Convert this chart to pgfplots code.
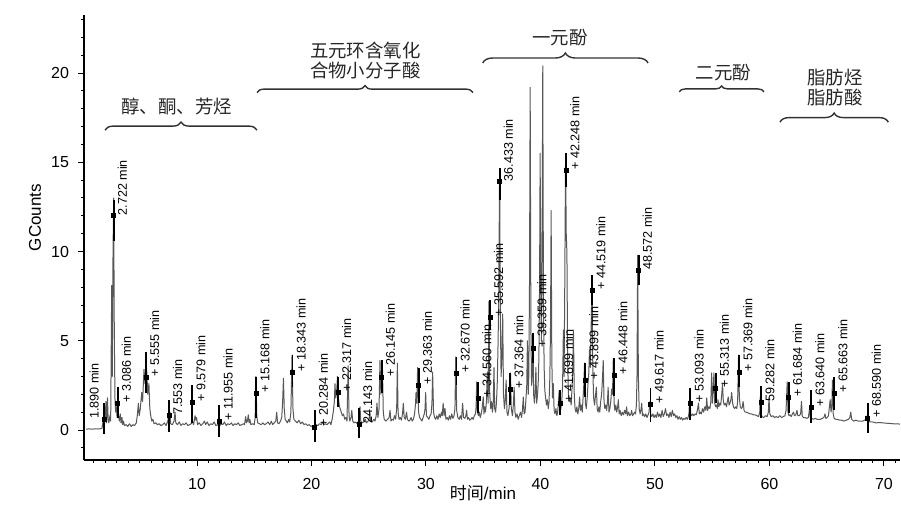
\documentclass[border=0pt]{standalone}
\usepackage{fontspec}
\setmainfont{Liberation Sans}
\newfontfamily\cjk{Noto Sans CJK SC}
\usepackage{pgfplots}
\pgfplotsset{compat=1.18}
\usetikzlibrary{decorations.pathreplacing}
\definecolor{trace}{RGB}{88,88,88}
\definecolor{brc}{RGB}{50,50,50}
\begin{document}
\begin{tikzpicture}
\begin{axis}[
 scale only axis, width=408pt, height=222.5pt,
 xmin=0.13, xmax=71.4, ymin=-1.68, ymax=23.25,
 axis x line*=bottom, axis y line*=left,
 axis line style={line width=0.6pt, black},
 xtick={10,20,...,70}, ytick={0,5,...,20},
 minor xtick={1,...,71}, minor ytick={-1,...,23},
 tick align=outside, major tick length=3pt, minor tick length=1.5pt,
 tick style={line width=0.5pt, black},
 /pgf/number format/assume math mode=true,
 ticklabel style={font=\fontsize{8}{9}\selectfont},
 yticklabel style={xshift=-1pt},
 xticklabel style={yshift=-2.5pt},
 xlabel={{\cjk 时间}/min}, ylabel={GCounts},
 label style={font=\fontsize{8.5}{10}\selectfont},
 xlabel style={at={(axis description cs:0.489,-0.074)}, anchor=center},
 ylabel style={at={(axis description cs:-0.06,0.545)}, anchor=center},
 clip=false,
]
\addplot[color=trace, line width=0.5pt, line join=round, mark=none] coordinates {
(0.3,0.05)(0.6,0.06)(0.9,0.05)(1.2,0.07)(1.5,0.06)(1.7,0.1)(1.8,0.5)(1.86,0.9)(1.92,0.3)(2.0,0.9)(2.05,1.6)(2.1,0.4)(2.18,1.8)(2.24,0.6)(2.3,0.4)
(2.4,0.8)(2.46,0.5)(2.55,8.1)(2.6,3.0)(2.66,9.5)(2.72,13.0)(2.78,5.0)(2.84,1.6)(2.9,1.0)(2.96,1.3)(3.02,0.7)(3.08,2.2)(3.14,0.8)(3.22,0.5)(3.3,0.9)(3.36,0.4)(3.45,0.7)(3.5,0.3)(3.58,0.5)(3.66,0.25)
(3.8,0.3)(3.95,0.2)(4.1,0.35)(4.25,0.2)(4.4,0.3)(4.55,0.25)(4.7,0.4)(4.8,0.9)(4.88,1.5)(4.95,0.8)(5.05,1.2)(5.17,2.1)(5.25,1.6)(5.37,3.4)(5.45,2.6)(5.55,3.75)(5.62,3.2)(5.7,2.0)(5.8,2.6)(5.88,1.2)(5.96,0.8)(6.05,0.5)(6.15,0.6)(6.25,0.35)(6.4,0.4)(6.55,0.3)
(6.7,0.35)(6.85,0.25)(7.0,0.3)(7.15,0.4)(7.3,0.25)(7.45,0.5)(7.52,0.8)(7.58,0.3)(7.64,1.0)(7.7,0.35)(7.85,0.3)(8.0,0.5)(8.08,1.0)(8.15,0.4)(8.3,0.3)(8.45,0.45)(8.6,0.25)(8.75,0.35)(8.9,0.3)(9.05,0.4)(9.2,0.25)(9.35,0.3)(9.5,0.35)(9.6,0.5)(9.7,0.3)(9.83,0.8)(9.9,0.55)(9.96,0.7)(10.05,0.3)(10.2,0.4)
(10.35,0.25)(10.5,0.35)(10.65,0.5)(10.75,0.3)(10.9,0.45)(11.05,0.25)(11.2,0.35)(11.35,0.3)(11.5,0.45)(11.65,0.25)(11.8,0.3)(11.95,0.2)(12.1,0.35)(12.25,0.3)(12.4,0.45)(12.55,0.25)(12.7,0.35)(12.85,0.3)(13.0,0.4)(13.15,0.25)(13.3,0.35)(13.45,0.3)(13.6,0.4)(13.75,0.25)(13.9,0.3)(14.05,0.35)
(14.15,0.3)(14.25,0.75)(14.32,0.4)(14.4,0.5)(14.48,0.85)(14.55,0.4)(14.62,0.6)(14.7,0.3)(14.85,0.35)(15.0,0.3)(15.08,0.7)(15.15,3.0)(15.22,0.8)(15.3,0.4)(15.45,0.35)(15.6,0.3)(15.75,0.4)(15.9,0.3)(16.05,0.35)(16.2,0.45)(16.35,0.3)(16.5,0.5)(16.6,0.3)(16.75,0.4)(16.88,0.5)(16.96,1.0)(17.04,0.4)(17.15,0.35)(17.3,0.5)(17.4,0.7)(17.48,1.6)(17.55,2.9)(17.62,1.2)(17.7,0.6)(17.8,0.5)(17.9,0.4)(18.0,0.6)(18.1,0.45)(18.2,1.0)(18.3,4.2)(18.38,1.2)(18.46,0.6)
(18.6,0.5)(18.75,0.4)(18.9,0.55)(19.05,0.35)(19.2,0.45)(19.35,0.3)(19.5,0.35)(19.65,0.25)(19.8,0.3)(19.95,0.2)(20.1,0.25)(20.25,0.15)(20.4,0.3)(20.55,0.25)(20.7,0.35)(20.85,0.3)(21.0,0.45)(21.08,0.3)(21.2,0.35)(21.35,0.3)(21.5,0.4)(21.6,0.45)(21.7,0.3)(21.8,0.6)(21.9,1.0)(22.0,1.6)(22.05,2.6)(22.12,1.8)(22.2,2.2)(22.27,3.0)(22.34,1.9)(22.42,1.4)(22.5,1.2)(22.6,1.0)(22.7,0.8)(22.8,0.9)(22.9,0.6)(23.0,0.7)(23.1,0.5)(23.2,3.6)(23.28,0.8)(23.35,0.5)(23.45,0.7)(23.52,1.1)(23.6,0.5)(23.7,0.4)(23.85,0.45)(24.0,0.35)(24.1,0.5)(24.18,0.9)(24.24,1.3)(24.3,0.5)(24.4,0.4)
(24.55,0.45)(24.7,0.6)(24.8,0.4)(24.95,0.5)(25.05,0.7)(25.1,1.0)(25.16,0.5)(25.3,0.45)(25.45,0.6)(25.55,0.5)(25.65,0.8)(25.72,1.5)(25.8,0.7)(25.9,1.2)(25.98,3.9)(26.06,2.0)(26.12,2.5)(26.19,3.75)(26.27,1.0)(26.35,0.6)(26.5,0.5)(26.65,0.6)(26.78,0.7)(26.86,1.1)(26.94,0.5)(27.05,0.6)(27.15,0.55)(27.25,0.8)(27.35,0.6)(27.44,1.2)(27.5,3.75)(27.56,1.0)(27.65,0.6)(27.75,0.7)(27.85,0.55)(27.95,0.9)(28.02,1.5)(28.1,0.7)(28.2,0.6)(28.3,1.0)(28.38,0.6)(28.5,0.5)
(28.6,0.55)(28.7,0.7)(28.8,0.5)(28.9,0.6)(29.0,0.9)(29.08,1.4)(29.13,2.1)(29.2,1.5)(29.27,3.5)(29.35,1.0)(29.45,0.7)(29.55,0.6)(29.65,0.5)(29.75,0.7)(29.85,0.9)(29.92,1.2)(29.97,2.1)(30.04,0.8)(30.15,0.7)(30.25,0.6)(30.35,0.8)(30.45,0.9)(30.52,1.5)(30.58,3.25)(30.66,1.0)(30.75,0.7)(30.85,0.6)(30.95,0.8)(31.05,0.6)(31.15,0.9)(31.25,0.7)(31.35,1.0)(31.42,0.8)(31.5,1.5)(31.58,0.8)(31.66,1.2)(31.74,0.6)(31.85,0.7)(31.95,0.55)(32.05,0.8)(32.15,0.6)(32.25,0.9)(32.35,0.65)(32.45,0.8)(32.53,1.2)(32.6,4.1)(32.68,1.1)(32.78,0.7)(32.9,0.6)
(33.0,0.8)(33.1,0.6)(33.2,1.5)(33.28,0.7)(33.4,0.65)(33.48,0.8)(33.55,1.1)(33.62,0.6)(33.72,0.7)(33.82,0.55)(33.92,0.6)(34.02,0.7)(34.12,0.6)(34.22,0.8)(34.32,0.9)(34.38,1.3)(34.43,2.7)(34.5,1.0)(34.58,0.8)(34.66,1.0)(34.74,0.7)(34.82,0.9)(34.9,1.2)(35.0,1.85)(35.06,0.9)(35.14,1.3)(35.2,1.0)(35.28,1.6)(35.36,3.25)(35.43,1.5)(35.5,7.2)(35.57,2.0)(35.65,1.2)(35.73,1.6)(35.8,1.0)(35.87,1.4)(35.94,3.5)(36.0,1.2)(36.08,1.0)
(36.15,1.5)(36.22,2.5)(36.3,5.0)(36.36,8.0)(36.43,14.6)(36.5,6.0)(36.56,3.0)(36.62,4.0)(36.7,6.5)(36.77,2.0)(36.85,1.2)(36.92,1.6)(37.0,2.8)(37.07,1.0)(37.15,0.8)(37.25,1.2)(37.32,1.8)(37.38,3.2)(37.45,1.2)(37.55,0.8)(37.63,1.4)(37.7,2.4)(37.77,1.0)(37.85,0.7)(37.95,0.9)(38.05,0.6)(38.15,0.8)(38.25,1.0)(38.35,0.7)(38.42,1.1)(38.5,1.85)(38.57,0.9)(38.65,1.0)(38.72,1.6)(38.8,2.5)(38.86,5.0)(38.93,2.0)
(38.98,3.0)(39.04,8.0)(39.1,19.2)(39.16,6.0)(39.22,2.5)(39.28,3.2)(39.34,5.4)(39.4,2.0)(39.47,1.5)(39.54,2.2)(39.6,3.5)(39.66,1.5)(39.72,1.8)(39.8,2.6)(39.86,4.0)(39.92,8.0)(39.97,15.5)(40.03,7.0)(40.08,5.0)(40.14,10.0)(40.2,20.4)(40.26,7.0)(40.32,3.5)(40.38,2.2)(40.45,1.8)(40.52,1.4)(40.6,1.7)(40.68,1.2)(40.75,1.6)(40.82,3.0)(40.88,6.0)(40.93,12.3)(40.99,4.0)(41.05,1.8)(41.12,2.6)(41.19,1.1)(41.27,0.9)(41.35,1.2)(41.43,0.8)(41.5,1.0)(41.57,1.6)(41.63,2.2)(41.7,1.0)
(41.78,1.2)(41.86,1.6)(41.93,2.5)(42.0,5.6)(42.06,3.0)(42.12,8.0)(42.19,15.3)(42.25,11.0)(42.31,9.9)(42.37,4.0)(42.44,2.0)(42.52,1.6)(42.6,1.8)(42.68,1.4)(42.76,2.4)(42.82,3.5)(42.88,5.6)(42.95,2.0)(43.02,1.2)(43.1,1.0)(43.18,1.3)(43.26,0.9)(43.34,1.2)(43.42,1.85)(43.49,1.1)(43.57,1.4)(43.65,1.0)(43.72,1.8)(43.79,2.6)(43.85,3.75)(43.92,1.5)(44.0,1.2)(44.08,1.8)(44.15,2.6)(44.22,3.2)(44.28,4.5)
(44.35,3.5)(44.42,5.5)(44.5,8.6)(44.57,3.5)(44.64,1.8)(44.72,1.4)(44.8,1.9)(44.88,2.4)(44.95,1.2)(45.03,1.0)(45.1,1.3)(45.18,1.0)(45.26,1.6)(45.34,2.0)(45.41,2.8)(45.48,3.9)(45.55,1.6)(45.62,1.2)(45.7,1.4)(45.78,1.1)(45.85,1.6)(45.91,2.4)(45.98,1.0)(46.06,1.2)(46.14,1.6)(46.22,2.3)(46.29,2.0)(46.36,4.0)(46.43,1.5)(46.5,1.1)(46.58,1.4)(46.66,1.0)(46.74,1.3)(46.8,1.7)(46.87,0.9)(46.95,1.1)
(47.05,0.8)(47.15,1.0)(47.25,0.85)(47.35,1.1)(47.45,0.9)(47.52,1.3)(47.6,0.8)(47.7,1.0)(47.8,0.8)(47.9,0.9)(47.96,1.1)(48.04,0.8)(48.14,0.9)(48.22,1.0)(48.3,0.9)(48.38,1.4)(48.43,3.0)(48.49,9.8)(48.55,3.0)(48.62,1.2)(48.7,0.9)(48.77,1.1)(48.84,1.5)(48.91,0.8)(49.0,0.9)(49.1,0.75)(49.2,0.9)(49.3,0.7)(49.4,0.85)(49.48,1.0)(49.56,1.6)(49.63,0.9)(49.72,0.75)(49.82,0.9)(49.92,0.7)(50.02,0.85)(50.12,0.7)(50.22,1.0)(50.32,0.75)(50.42,0.9)
(50.52,0.7)(50.62,1.1)(50.72,0.75)(50.82,0.9)(50.92,1.2)(51.02,0.8)(51.12,0.9)(51.22,0.7)(51.32,1.0)(51.42,0.75)(51.52,1.1)(51.62,0.8)(51.72,0.9)(51.82,0.7)(51.92,0.8)(52.02,0.6)(52.12,0.75)(52.22,0.6)(52.32,0.7)(52.42,0.55)(52.52,0.65)(52.62,0.6)(52.72,0.7)(52.82,0.6)(52.92,0.75)(52.98,1.0)(53.05,2.3)(53.12,0.9)(53.2,0.8)(53.3,0.9)(53.4,0.8)
(53.5,0.9)(53.6,0.85)(53.7,1.1)(53.8,1.5)(53.87,0.9)(53.95,1.0)(54.05,0.9)(54.15,1.2)(54.25,1.0)(54.35,1.3)(54.45,1.1)(54.52,1.8)(54.6,1.1)(54.7,1.3)(54.8,1.2)(54.88,1.6)(54.95,3.2)(55.02,1.5)(55.08,2.2)(55.15,3.2)(55.22,1.5)(55.3,1.3)(55.38,1.4)(55.45,1.2)(55.5,1.7)(55.58,1.3)(55.66,1.5)(55.74,1.4)(55.82,1.9)(55.9,2.6)(55.97,1.6)(56.05,1.4)(56.15,1.5)(56.25,1.3)(56.32,1.6)(56.4,1.85)(56.47,1.4)(56.55,1.5)(56.63,1.7)(56.7,2.1)(56.78,1.5)(56.86,1.3)(56.95,1.2)(57.05,1.3)(57.15,1.2)(57.22,1.6)(57.3,4.2)(57.37,1.8)(57.45,1.3)(57.55,1.2)(57.63,1.3)(57.7,1.6)(57.78,1.1)(57.88,1.0)
(58.0,1.0)(58.15,0.95)(58.3,0.9)(58.45,0.9)(58.6,0.85)(58.75,0.85)(58.9,0.8)(59.05,0.75)(59.15,1.0)(59.2,1.9)(59.26,0.9)(59.35,0.75)(59.5,0.7)(59.65,0.8)(59.8,0.75)(59.9,1.0)(59.96,1.8)(60.03,0.9)(60.15,0.75)(60.3,0.8)(60.45,0.7)(60.6,0.75)(60.75,0.7)(60.9,0.8)(61.05,0.7)(61.2,0.75)(61.35,0.8)(61.45,1.1)(61.55,2.7)(61.62,1.0)(61.7,0.8)(61.8,0.85)(61.9,0.75)
(62.0,0.9)(62.1,1.0)(62.18,0.8)(62.3,0.85)(62.4,1.1)(62.48,0.8)(62.6,0.8)(62.72,0.9)(62.8,1.6)(62.86,0.8)(62.95,0.7)(63.1,0.7)(63.25,0.65)(63.4,0.7)(63.5,1.2)(63.57,0.7)(63.7,0.65)(63.85,0.6)(64.0,0.65)(64.15,0.6)(64.3,0.6)(64.45,0.6)(64.6,0.65)(64.75,0.7)(64.85,0.9)(64.93,0.65)(65.05,0.7)(65.15,0.8)(65.22,1.2)(65.3,1.7)(65.38,1.0)(65.45,1.4)(65.5,2.8)(65.57,0.9)(65.65,0.65)(65.8,0.6)(65.95,0.6)
(66.1,0.55)(66.3,0.55)(66.5,0.5)(66.7,0.55)(66.9,0.6)(67.02,0.7)(67.1,1.0)(67.18,0.6)(67.35,0.5)(67.55,0.55)(67.75,0.5)(67.95,0.5)(68.15,0.5)(68.3,0.55)(68.45,0.6)(68.52,0.8)(68.6,0.5)(68.8,0.45)(69.0,0.45)(69.3,0.4)(69.6,0.42)(69.9,0.4)(70.2,0.38)(70.5,0.37)(70.8,0.35)(71.1,0.35)(71.4,0.33)
};
\addplot[only marks, mark=square*, mark size=1pt, black,
 point meta=explicit symbolic, nodes near coords,
 nodes near coords style={xshift=1.8pt, rotate=90, anchor=north west, inner sep=0pt, font=\fontsize{6.3}{7}\selectfont, black},
 error bars/y dir=both, error bars/y explicit, error bars/error mark=none,
 error bars/error bar style={line width=0.9pt, black}] coordinates {
(2.722,12.0) += (0,0.9) -= (0,1.4) [2.722 min]
(3.086,1.5) += (0,0.9) -= (0,0.8) [+ 3.086 min]
(5.555,2.97) += (0,1.4) -= (0,0.9) [+ 5.555 min]
(7.553,0.84) += (0,0.84) -= (0,0.95) [7.553 min]
(9.579,1.57) += (0,0.95) -= (0,1.18) [+ 9.579 min]
(11.955,0.5) += (0,0.9) -= (0,0.89) [+ 11.955 min]
(15.168,2.07) += (0,0.9) -= (0,1.4) [+ 15.168 min]
(18.343,3.25) += (0,0.95) -= (0,0.85) [+ 18.343 min]
(20.284,0.17) += (0,0.95) -= (0,0.84) [+ 20.284 min]
(22.317,2.13) += (0,0.84) -= (0,0.84) [+ 22.317 min]
(24.143,0.34) += (0,0.89) -= (0,0.79) [24.143 min]
(26.145,2.97) += (0,0.95) -= (0,0.9) [+ 26.145 min]
(29.363,2.52) += (0,0.95) -= (0,1.0) [+ 29.363 min]
(32.670,3.19) += (0,0.9) -= (0,0.67) [+ 32.670 min]
(34.560,1.79) += (0,0.9) -= (0,0.84) [+ 34.560 min]
(35.592,6.33) += (0,0.95) -= (0,0.73) [+ 35.592 min]
(36.433,13.9) += (0,0.8) -= (0,1.0) [36.433 min]
(37.364,2.30) += (0,0.89) -= (0,0.9) [+ 37.364 min]
(39.359,4.59) += (0,0.84) -= (0,0.84) [+ 39.359 min]
(41.699,1.51) += (0,0.73) -= (0,0.67) [+ 41.699 min]
(42.248,14.57) += (0,0.95) -= (0,0.95) [+ 42.248 min]
(43.899,2.80) += (0,0.95) -= (0,0.95) [+ 43.899 min]
(44.519,7.84) += (0,0.84) -= (0,0.84) [+ 44.519 min]
(46.448,3.08) += (0,0.95) -= (0,1.2) [+ 46.448 min]
(48.572,8.96) += (0,0.84) -= (0,0.84) [48.572 min]
(49.617,1.46) += (0,0.9) -= (0,1.0) [+ 49.617 min]
(53.093,1.51) += (0,0.84) -= (0,0.95) [+ 53.093 min]
(55.313,2.35) += (0,0.84) -= (0,0.84) [+ 55.313 min]
(57.369,3.25) += (0,0.95) -= (0,0.84) [+ 57.369 min]
(59.282,1.57) += (0,0.9) -= (0,0.9) [59.282 min]
(61.684,1.85) += (0,0.84) -= (0,0.9) [+ 61.684 min]
(63.640,1.29) += (0,0.95) -= (0,0.9) [+ 63.640 min]
(65.663,2.07) += (0,0.9) -= (0,0.95) [+ 65.663 min]
(68.590,0.67) += (0,0.84) -= (0,0.84) [+ 68.590 min]
};
\addplot[only marks, mark=square*, mark size=1pt, black,
 point meta=explicit symbolic, nodes near coords,
 nodes near coords style={xshift=-2.5pt, rotate=90, anchor=south west, inner sep=0pt, font=\fontsize{6.3}{7}\selectfont, black},
 error bars/y dir=both, error bars/y explicit, error bars/error mark=none,
 error bars/error bar style={line width=0.9pt, black}] coordinates {
(1.890,0.62) += (0,0.89) -= (0,0.84) [1.890 min]
};
\draw[brc, line width=0.7pt, decorate, decoration={brace, amplitude=4pt}] (axis cs:1.97,16.8) -- (axis cs:15.24,16.8);
\draw[brc, line width=0.7pt, decorate, decoration={brace, amplitude=3.5pt}] (axis cs:15.24,18.9) -- (axis cs:34.1,18.9);
\draw[brc, line width=0.7pt, decorate, decoration={brace, amplitude=5pt}] (axis cs:34.95,20.56) -- (axis cs:49.4,20.56);
\draw[brc, line width=0.7pt, decorate, decoration={brace, amplitude=3pt}] (axis cs:52.12,18.94) -- (axis cs:59.52,18.94);
\draw[brc, line width=0.7pt, decorate, decoration={brace, amplitude=4.5pt}] (axis cs:60.92,17.25) -- (axis cs:70.38,17.25);
\node[font=\cjk\fontsize{9.2}{9.8}\selectfont, text=black!85, align=center] at (axis cs:8.23,18.1) {醇、酮、芳烃};
\node[font=\cjk\fontsize{9.2}{9.8}\selectfont, text=black!85, align=center] at (axis cs:24.7,20.7) {五元环含氧化\\合物小分子酸};
\node[font=\cjk\fontsize{9.2}{9.8}\selectfont, text=black!85, align=center] at (axis cs:41.7,21.96) {一元酚};
\node[font=\cjk\fontsize{9.2}{9.8}\selectfont, text=black!85, align=center] at (axis cs:55.97,20.0) {二元酚};
\node[font=\cjk\fontsize{9.2}{10}\selectfont, text=black!85, align=center] at (axis cs:65.72,19.2) {脂肪烃\\脂肪酸};
\end{axis}
\pgfresetboundingbox
\path ([shift={(-42pt,-23.5pt)}]current axis.south west) rectangle ++(450.5pt,253.5pt);
\end{tikzpicture}
\end{document}
